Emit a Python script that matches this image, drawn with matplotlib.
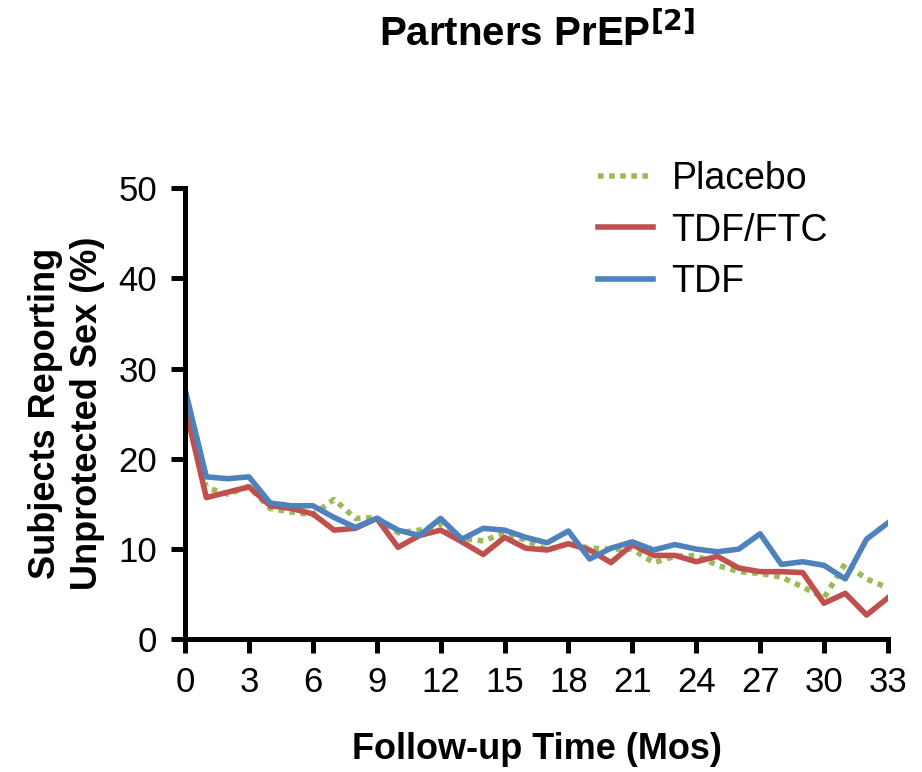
import matplotlib
matplotlib.use('Agg')
import matplotlib.pyplot as plt

plt.rcParams['font.family'] = ['Liberation Sans', 'DejaVu Sans']

# data: % reporting unprotected sex by month of follow-up
months = list(range(34))
placebo = [25.7, 16.8, 16.1, 16.9, 14.5, 14.1, 13.8, 15.5, 13.4, 13.5,
           11.8, 12.1, 12.8, 11.2, 10.9, 11.8, 11.0, 9.9, 10.6, 10.1,
           10.0, 10.0, 8.5, 9.2, 9.3, 8.2, 7.5, 7.3, 6.9, 5.8,
           4.6, 8.4, 6.7, 5.7]
tdf_ftc = [25.8, 15.7, 16.3, 16.9, 14.8, 14.5, 13.9, 12.1, 12.3, 13.4,
           10.2, 11.5, 12.1, 10.8, 9.4, 11.3, 10.1, 9.9, 10.6, 9.9,
           8.5, 10.5, 9.3, 9.3, 8.6, 9.2, 7.9, 7.5, 7.5, 7.4,
           4.0, 5.1, 2.7, 4.6]
tdf = [27.7, 18.0, 17.8, 18.0, 15.1, 14.8, 14.8, 13.5, 12.4, 13.4,
       12.1, 11.5, 13.4, 11.1, 12.3, 12.1, 11.3, 10.7, 12.0, 8.9,
       10.1, 10.8, 9.9, 10.5, 10.0, 9.7, 10.0, 11.7, 8.3, 8.6,
       8.2, 6.7, 11.1, 12.9]

fig = plt.figure(figsize=(9.22, 7.72), dpi=100)
ax = fig.add_axes([0.2007, 0.1718, 0.7623, 0.5847])

ax.plot(months, placebo, color='#9BBB59', lw=4, linestyle=(0, (1, 1)),
        dash_capstyle='butt', label='Placebo')
ax.plot(months, tdf_ftc, color='#C0504D', lw=4, label='TDF/FTC')
ax.plot(months, tdf, color='#4F81BD', lw=4, label='TDF')

ax.set_xlim(0, 33)
ax.set_ylim(0, 50)
ax.set_xticks(range(0, 34, 3))
ax.set_yticks(range(0, 51, 10))
for s in ['top', 'right']:
    ax.spines[s].set_visible(False)
for s in ['left', 'bottom']:
    ax.spines[s].set_linewidth(3.6)
ax.tick_params(width=3.6, length=10, labelsize=25)
ax.tick_params(axis='y', pad=10)
ax.tick_params(axis='x', pad=9)

ax.set_xlabel('Follow-up Time (Mos)', fontsize=26, fontweight='bold', labelpad=24)
ax.set_ylabel('Subjects Reporting\nUnprotected Sex (%)', fontsize=26,
              fontweight='bold', labelpad=10, linespacing=1.25)

fig.text(0.583, 0.958, r'Partners PrEP$^{\mathbf{[2]}}$', fontsize=29,
         fontweight='bold', ha='center', va='center')

ax.legend(loc='upper left', bbox_to_anchor=(0.54, 1.135), frameon=False,
          fontsize=27, handlelength=1.45, handletextpad=0.5, labelspacing=0.42)

plt.savefig('out.png', dpi=100)
